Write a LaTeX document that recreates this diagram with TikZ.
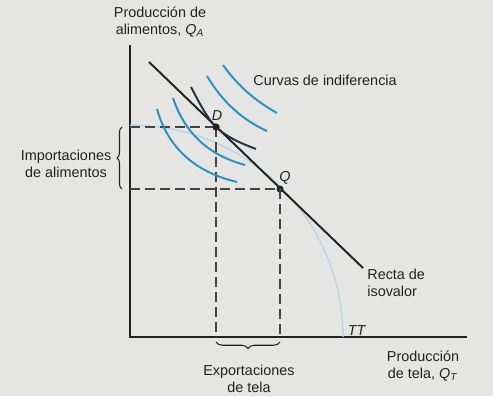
\documentclass[tikz,border=0pt]{standalone}
\usepackage{fontspec}
\setmainfont{Liberation Sans}
\usetikzlibrary{decorations.pathreplacing}
\definecolor{paper}{HTML}{E5E6E3}
\definecolor{ink}{HTML}{222222}
\definecolor{icblue}{HTML}{2A8FC4}
\definecolor{ttblue}{HTML}{B9D5E6}
\definecolor{tangent}{HTML}{1F3340}
\begin{document}
\begin{tikzpicture}[x=0.02cm,y=-0.02cm,
  lbl/.style={font=\fontsize{8.2}{9.8}\selectfont, text=ink, inner sep=0pt},
  axis/.style={draw=ink, line width=1.1pt},
  isoline/.style={draw=ink, line width=1.1pt},
  icurve/.style={draw=icblue, line width=1.1pt},
  tcurve/.style={draw=tangent, line width=1.1pt},
  guide/.style={draw=ink!85, line width=0.7pt, dash pattern=on 0.2cm off 0.1cm},
  dot/.style={circle, fill=ink, inner sep=0pt, minimum size=0.14cm},
  bracel/.style={draw=ink, line width=0.6pt, decorate, decoration={brace, amplitude=0.1cm}},
  braceb/.style={draw=ink, line width=0.6pt, decorate, decoration={brace, mirror, amplitude=0.13cm}}]
\useasboundingbox[fill=paper] (0,0) rectangle (493,396);

% axes
\coordinate (O) at (130,337);
\coordinate (ytop) at (130,45);
\coordinate (xend) at (467,337);
\draw[axis] (ytop) -- (O) -- (xend);

% TT curve (faint)
\coordinate (tt0) at (130,125);
\coordinate (tt1) at (343,337);
\draw[draw=ttblue, line width=0.8pt] (tt0) .. controls (248,125) and (343,220) .. (tt1);

% isovalue line
\coordinate (L1) at (149,62);
\coordinate (L2) at (363,268);
\draw[isoline] (L1) -- (L2);

% points
\node[dot] (D) at (216,127) {};
\node[dot] (Q) at (280,189) {};

% guides
\coordinate (yD) at (130,127);
\coordinate (yQ) at (130,189);
\coordinate (xD) at (216,337);
\coordinate (xQ) at (280,337);
\draw[guide] (yD) -- (D.center);
\draw[guide] (yQ) -- (Q.center);
\draw[guide] (D.center) -- (xD);
\draw[guide] (Q.center) -- (xQ);

% indifference curves
\draw[icurve] (157,109) .. controls (168,148) and (195,172) .. (237,182);
\draw[icurve] (173,98) .. controls (184.5,132.5) and (208,155) .. (245,165);
\draw[icurve] (207,76) .. controls (222,101.4) and (242,119.7) .. (267,131);
\draw[icurve] (223,65) .. controls (237.3,85.1) and (255.3,101.1) .. (277,113);
\draw[tcurve] (191,87) .. controls (196,96) and (206,117.4) .. (D.center)
  .. controls (226,136.6) and (240,143) .. (256,149);
\node[dot] at (D) {};

% braces
\coordinate (bl1) at (122,189);
\coordinate (bl2) at (122,127);
\draw[bracel] (bl1) -- (bl2);
\coordinate (bb1) at (216,342);
\coordinate (bb2) at (280,342);
\draw[braceb] (bb1) -- (bb2);

% labels
\node[lbl, align=center] (lqa) at (160,22) {Producción de\\alimentos, \textit{Q}\textsubscript{\textit{A}}};
\node[lbl, align=center] (limp) at (66,164) {Importaciones\\de alimentos};
\node[lbl, anchor=west] (lcur) at (253,80) {Curvas de indiferencia};
\node[lbl, align=left, anchor=west] (lrec) at (367,283) {Recta de\\isovalor};
\node[lbl] (ltt) at (357,331) {\textit{TT}};
\node[lbl, align=center] (lqt) at (423,366) {Producción\\de tela, \textit{Q}\textsubscript{\textit{T}}};
\node[lbl, align=center] (lexp) at (249,379) {Exportaciones\\de tela};
\node[lbl] (lD) at (217,116) {\textit{D}};
\node[lbl] (lQ) at (285,178) {\textit{Q}};
\end{tikzpicture}
\end{document}
